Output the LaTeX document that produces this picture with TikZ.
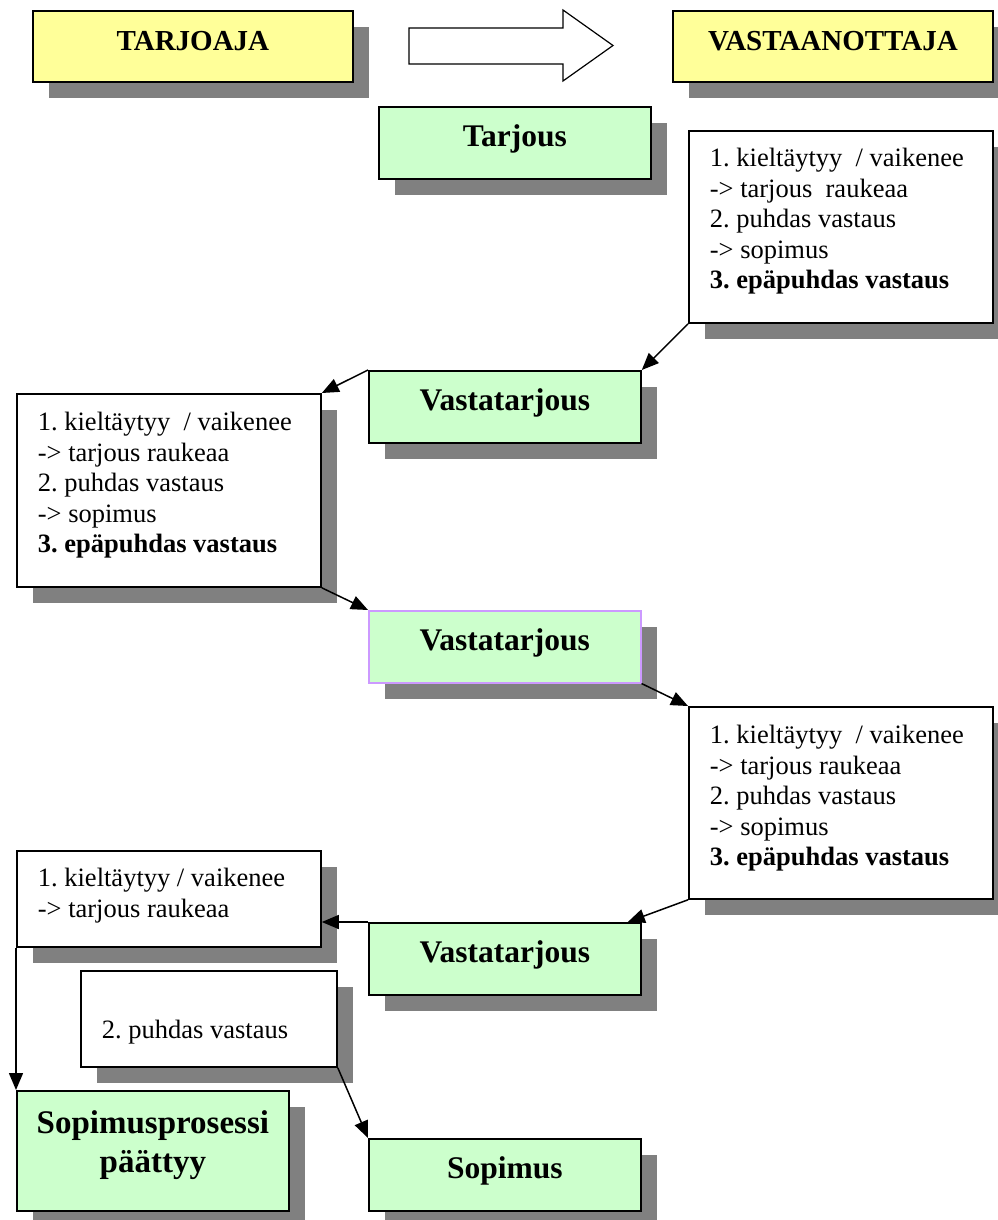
\documentclass[tikz,border=0pt]{standalone}
\usepackage{fontspec}
\setmainfont{Liberation Serif}
\usetikzlibrary{arrows.meta,shadows}
\definecolor{headeryellow}{RGB}{255,255,153}
\definecolor{titlegreen}{RGB}{204,255,204}
\definecolor{lavenderline}{RGB}{204,153,255}
\definecolor{shadowgray}{RGB}{128,128,128}
\frenchspacing
\newcommand{\replytext}[4]{\parbox[t][#2][t]{#1}{\leftskip=21pt\rule{0pt}{#3}#4}}

\begin{document}
\begin{tikzpicture}[x=1pt,y=-1pt,
  box/.style={draw,line width=1.8pt,anchor=north west,inner sep=0pt,
    drop shadow={shadow xshift=16pt,shadow yshift=-16pt,fill=shadowgray,opacity=1}},
  header/.style={box,fill=headeryellow,minimum width=320pt,minimum height=71pt,
    text height=19pt,text depth=11pt,font=\fontsize{29}{34}\selectfont\bfseries},
  title/.style={box,fill=titlegreen,minimum width=272pt,minimum height=72pt,
    text height=22pt,text depth=14pt,font=\fontsize{31.5}{38}\selectfont\bfseries},
  reply/.style={box,fill=white,font=\fontsize{26.5}{30.5}\selectfont},
  conn/.style={-{Triangle[length=17pt,width=14pt]},line width=1.5pt}]
  \useasboundingbox (0,0) rectangle (997,1220);

  % parties
  \node[header] (tarjoaja) at (32,10) {TARJOAJA};
  \node[header] (vastaanottaja) at (672,10) {VASTAANOTTAJA};
  \draw[line width=1.2pt,fill=white] (409,28) -- (563,28) -- (563,10) -- (613,45.5)
    -- (563,81) -- (563,64) -- (409,64) -- cycle;

  % offers and answers
  \node[title] (tarjous) at (378,106) {Tarjous};
  \node[reply] (vastaus1) at (688,130) {\replytext{304pt}{192pt}{36pt}{1. kieltäytyy\ \ / vaikenee\\
    -> tarjous\ \ raukeaa\\2. puhdas vastaus\\-> sopimus\\\textbf{3. epäpuhdas vastaus}}};
  \node[title] (vasta1) at (368,370) {Vastatarjous};
  \node[reply] (vastaus2) at (16,393) {\replytext{304pt}{193pt}{37pt}{1. kieltäytyy\ \ / vaikenee\\
    -> tarjous raukeaa\\2. puhdas vastaus\\-> sopimus\\\textbf{3. epäpuhdas vastaus}}};
  \node[title,draw=lavenderline,line width=1.5pt] (vasta2) at (368,610) {Vastatarjous};
  \node[reply] (vastaus3) at (688,706) {\replytext{304pt}{192pt}{37pt}{1. kieltäytyy\ \ / vaikenee\\
    -> tarjous raukeaa\\2. puhdas vastaus\\-> sopimus\\\textbf{3. epäpuhdas vastaus}}};
  \node[title] (vasta3) at (368,922) {Vastatarjous};
  \node[reply] (hylkays) at (16,850) {\replytext{304pt}{96pt}{36pt}{1. kieltäytyy / vaikenee\\
    -> tarjous raukeaa}};
  \node[reply] (puhdas) at (80,970) {\replytext{256pt}{96pt}{68pt}{2. puhdas vastaus}};

  % results
  \node[box,fill=titlegreen,font=\fontsize{33}{39}\selectfont\bfseries] (paattyy) at (16,1090)
    {\parbox[t][120pt][t]{272pt}{\centering\rule{0pt}{43pt}Sopimusprosessi\\päättyy}};
  \node[title] (sopimus) at (368,1138) {Sopimus};

  \draw[conn] (vastaus1.south west) -- (vasta1.north east);
  \draw[conn] (vasta1.north west) -- (vastaus2.north east);
  \draw[conn] (vastaus2.south east) -- (vasta2.north west);
  \draw[conn] (vasta2.south east) -- (vastaus3.north west);
  \draw[conn] (vastaus3.south west) -- ([xshift=-14pt]vasta3.north east);
  \draw[conn] (vasta3.north west) -- (vasta3.north west -| hylkays.east);
  \draw[conn] (hylkays.south west) -- (paattyy.north west);
  \draw[conn] (puhdas.south east) -- (sopimus.north west);
\end{tikzpicture}
\end{document}
